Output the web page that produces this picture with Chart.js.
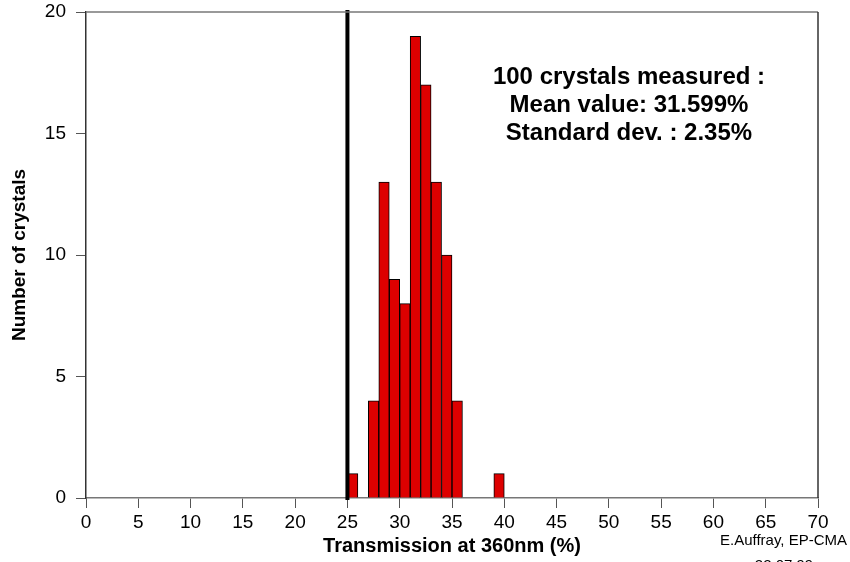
<!DOCTYPE html>
<html lang="en">
<head>
    <meta charset="UTF-8">
    <title>Transmission at 360nm</title>
    <style>
        body {
            margin: 0;
            padding: 0;
            background: #fff;
        }
        .chart-box {
            width: 850px;
            height: 562px;
        }
    </style>
</head>
<body>
    <div class="chart-box">
        <canvas id="histChart" width="850" height="562"></canvas>
    </div>

    <script src="https://cdn.jsdelivr.net/npm/chart.js@4"></script>
    <script>
        // bin centres (1% wide bins) and crystal counts
        const binCentres = [25.5, 27.5, 28.5, 29.5, 30.5, 31.5, 32.5, 33.5, 34.5, 35.5, 39.5];
        const counts = [1, 4, 13, 9, 8, 19, 17, 13, 10, 4, 1];
        const cutValue = 25;
        const xTicks = [0, 5, 10, 15, 20, 25, 30, 35, 40, 45, 50, 55, 60, 65, 70];
        const yTicks = [0, 5, 10, 15, 20];
        const infoLines = ['100 crystals measured :', 'Mean value: 31.599%', 'Standard dev. : 2.35%'];

        const FONT = "'Liberation Sans', Arial, sans-serif";

        const frame = {
            id: 'frame',
            afterDatasetsDraw(chart) {
                const { ctx, chartArea: a } = chart;
                ctx.save();
                ctx.strokeStyle = '#777';
                ctx.lineWidth = 1.5;
                ctx.beginPath();
                ctx.moveTo(a.left, a.top);
                ctx.lineTo(a.right, a.top);
                ctx.stroke();
                ctx.strokeStyle = '#333';
                ctx.beginPath();
                ctx.moveTo(a.right, a.top);
                ctx.lineTo(a.right, a.bottom);
                ctx.stroke();

                // text block
                ctx.fillStyle = '#000';
                ctx.textAlign = 'center';
                ctx.textBaseline = 'middle';
                ctx.font = 'bold 24px ' + FONT;
                infoLines.forEach((t, i) => ctx.fillText(t, 629, 77 + i * 28));

                ctx.font = '15px ' + FONT;
                ctx.textAlign = 'right';
                ctx.fillText('E.Auffray, EP-CMA', 847, 541);
                ctx.textAlign = 'center';
                ctx.fillText('22.07.99', 784, 566);
                ctx.restore();
            }
        };

        new Chart(document.getElementById('histChart'), {
            type: 'bar',
            data: {
                datasets: [{
                    type: 'line',
                    data: [{ x: cutValue, y: 0 }, { x: cutValue, y: 20 }],
                    borderColor: '#000',
                    borderWidth: 4,
                    borderCapStyle: 'square',
                    pointRadius: 0,
                    clip: false,
                    order: 0
                }, {
                    data: binCentres.map((x, i) => ({ x: x, y: counts[i] })),
                    backgroundColor: '#dd0000',
                    borderColor: '#000',
                    borderWidth: 1,
                    barPercentage: 1,
                    categoryPercentage: 1,
                    order: 1
                }]
            },
            options: {
                responsive: false,
                animation: false,
                layout: { padding: { left: 0, right: 32, top: 12, bottom: 0 } },
                plugins: {
                    legend: { display: false },
                    tooltip: { enabled: false }
                },
                scales: {
                    x: {
                        type: 'linear',
                        min: 0,
                        max: 70,
                        offset: false,
                        afterBuildTicks: s => { s.ticks = xTicks.map(v => ({ value: v })); },
                        afterFit: s => { s.height = 64; s.paddingLeft = 0; s.paddingRight = 0; },
                        grid: { offset: false, drawOnChartArea: false, tickLength: 10, color: '#555' },
                        border: { color: '#777', width: 1.5 },
                        ticks: { color: '#000', padding: 3, maxRotation: 0, font: { family: FONT, size: 19 } },
                        title: {
                            display: true,
                            text: 'Transmission at 360nm (%)',
                            color: '#000',
                            padding: { top: 0, bottom: 4 },
                            font: { family: FONT, size: 20, weight: 'bold' }
                        }
                    },
                    y: {
                        min: 0,
                        max: 20,
                        afterBuildTicks: s => { s.ticks = yTicks.map(v => ({ value: v })); },
                        afterFit: s => { s.width = 86; s.paddingTop = 0; s.paddingBottom = 0; },
                        grid: { drawOnChartArea: false, tickLength: 10, color: '#555' },
                        border: { color: '#333', width: 1.5 },
                        ticks: { color: '#000', padding: 10, font: { family: FONT, size: 19 } },
                        title: {
                            display: true,
                            text: 'Number of crystals',
                            color: '#000',
                            padding: { top: 8, bottom: 0 },
                            font: { family: FONT, size: 19, weight: 'bold' }
                        }
                    }
                }
            },
            plugins: [frame]
        });
    </script>
</body>
</html>
